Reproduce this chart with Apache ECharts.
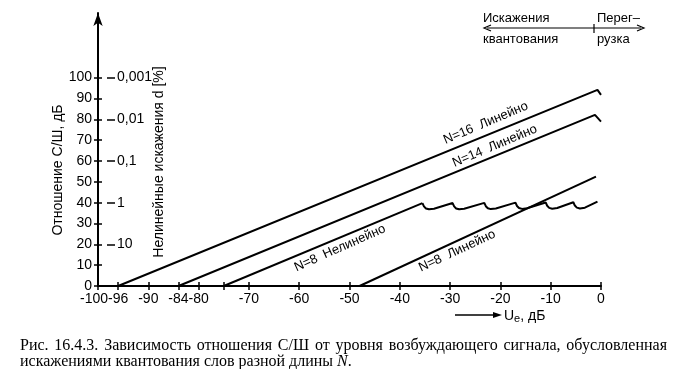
<!DOCTYPE html>
<html><head><meta charset="utf-8">
<script src="https://cdn.jsdelivr.net/npm/echarts@6/dist/echarts.min.js"></script>
<style>html,body{margin:0;padding:0;background:#fff}#c{width:677px;height:369px}</style>
</head><body><div id="c"></div>
<script>
// ---- data ----
const xTicks = [-100,-96,-90,-84,-80,-75,-70,-60,-50,-40,-30,-20,-10,0];
const xLabels = [-96,-90,-84,-80,-70,-60,-50,-40,-30,-20,-10,0];
const xFirstLabel = [-100];
const yTicks = [0,10,20,30,40,50,60,70,80,90,100];
const dTicks = [20,40,60,80,100];
const dLabels = ['10','1','0,1','0,01','0,001'];
const n16 = [[-96,0],[-0.7,94.1],[0,91.7]];
const n14 = [[-84,0],[-1.2,82.1],[0,78.9]];
const n8lin = [[-48,0],[-1,52.5]];
const n8nonlinRise = [[-75,0],[-35.5,39.8]];
const n8nonlinSaw = [
  [-35.5,39.8],[-35.2,38.2],[-34.8,37.2],[-34.2,36.8],[-33.2,37.1],
  [-29.5,39.8],[-29.2,38.2],[-28.8,37.2],[-28.2,36.8],[-27.2,37.1],
  [-23.2,39.9],[-22.9,38.3],[-22.5,37.3],[-21.9,36.9],[-20.9,37.2],
  [-17,40.0],[-16.7,38.4],[-16.3,37.4],[-15.7,37.0],[-14.7,37.3],
  [-11,40.1],[-10.7,38.5],[-10.3,37.5],[-9.7,37.1],[-8.7,37.4],
  [-5.5,40.2],[-5.2,38.6],[-4.8,37.6],[-4.2,37.2],[-3.2,37.6],
  [-0.7,40.5]
];
const lineLabels = [
  {text:'N=16  Линейно', at:[-22.9,78.2], rot:23},
  {text:'N=14  Линейно', at:[-21.1,67.2], rot:23},
  {text:'N=8  Нелинейно', at:[-51.9,18.2], rot:24},
  {text:'N=8  Линейно', at:[-28.6,16.8], rot:25}
];
const caption1 = ['Рис.','16.4.3.','Зависимость','отношения','С/Ш','от','уровня','возбуждающего','сигнала,','обусловленная'];
const caption2 = 'искажениями квантования слов разной длины ';

// ---- chart ----
const SANS = '"Liberation Sans", Arial, sans-serif';
const SERIF = '"Liberation Serif", "Times New Roman", serif';
const chart = echarts.init(document.getElementById('c'), null, {renderer:'canvas'});

function lineSeries(data, label){
  const s = {type:'line', data:data, symbol:'none', animation:false,
    lineStyle:{color:'#000', width:2}, z:3};
  if (label) {
    s.markPoint = {symbol:'circle', symbolSize:1, itemStyle:{color:'rgba(0,0,0,0)'}, animation:false,
      data:[{coord:label.at, value:0,
        label:{show:true, position:'inside', rotate:label.rot, formatter:label.text,
          color:'#000', fontSize:13, fontFamily:SANS}}]};
  }
  return s;
}

// justify caption line 1
const capFont = '16px ' + SERIF;
const ctx = document.createElement('canvas').getContext('2d');
ctx.font = capFont;
const w1 = caption1.map(w => ctx.measureText(w).width);
const tot = w1.reduce((a,b)=>a+b,0);
const gap = (667 - 20 - tot) / (caption1.length - 1);
const capEls = [];
let cx = 20;
caption1.forEach((w,i)=>{
  capEls.push({type:'text', x:cx, y:346, style:{text:w, font:capFont, fill:'#000', align:'left', verticalAlign:'middle'}});
  cx += w1[i] + gap;
});
capEls.push({type:'text', x:20, y:362, style:{
  text:'{a|' + caption2 + '}{i|N}{a|.}',
  rich:{a:{font:capFont, fill:'#000'}, i:{font:'italic ' + capFont, fill:'#000'}},
  align:'left', verticalAlign:'middle'}});

const option = {
  backgroundColor:'#fff',
  animation:false,
  grid:{left:98, right:76, top:13, bottom:83},
  xAxis:[
    {type:'value', min:-100, max:0, position:'bottom',
     axisLine:{onZero:false, lineStyle:{color:'#000', width:2}},
     axisTick:{show:true, length:4, customValues:xTicks, lineStyle:{color:'#000', width:1.5}},
     axisLabel:{color:'#000', fontSize:14, fontFamily:SANS, margin:6, customValues:xLabels,
       showMinLabel:true, showMaxLabel:true, hideOverlap:false, formatter:v=>String(v)},
     splitLine:{show:false}},
    {type:'value', min:-100, max:0, position:'bottom',
     axisLine:{show:false, onZero:false},
     axisTick:{show:true, inside:true, length:4, customValues:xTicks, lineStyle:{color:'#000', width:1.5}},
     axisLabel:{show:true, color:'#000', fontSize:14, fontFamily:SANS, margin:6, customValues:xFirstLabel,
       showMinLabel:true, formatter:v=>'{a|' + v + '}', rich:{a:{fontSize:14, fontFamily:SANS, color:'#000', padding:[0,8,0,0]}}},
     splitLine:{show:false}}
  ],
  yAxis:[
    {type:'value', min:0, max:131, position:'left',
     axisLine:{show:true, onZero:false, symbol:['none','arrow'], symbolSize:[7,13], lineStyle:{color:'#000', width:2}},
     axisTick:{show:true, length:4, customValues:yTicks, lineStyle:{color:'#000', width:1.5}},
     axisLabel:{color:'#000', fontSize:14, fontFamily:SANS, margin:6, customValues:yTicks},
     splitLine:{show:false}},
    {type:'value', min:0, max:131, position:'left',
     axisLine:{show:false, onZero:false},
     axisTick:{show:true, inside:true, length:4, customValues:yTicks, lineStyle:{color:'#000', width:1.5}},
     axisLabel:{show:false}, splitLine:{show:false}},
    {type:'value', min:0, max:131, position:'left', offset:-9,
     axisLine:{show:false, onZero:false},
     axisTick:{show:true, inside:true, length:8, customValues:dTicks, lineStyle:{color:'#000', width:1.5}},
     axisLabel:{show:true, inside:true, margin:10, color:'#000', fontSize:14, fontFamily:SANS,
       customValues:dTicks, formatter:v=>dLabels[dTicks.indexOf(v)] || ''},
     splitLine:{show:false}}
  ],
  series:[
    lineSeries(n16, lineLabels[0]),
    lineSeries(n14, lineLabels[1]),
    lineSeries(n8nonlinRise, lineLabels[2]),
    lineSeries(n8nonlinSaw, null),
    lineSeries(n8lin, lineLabels[3])
  ],
  graphic:[
    {type:'text', x:58, y:170, rotation:Math.PI/2, style:{text:'Отношение С/Ш, дБ', font:'14px ' + SANS, fill:'#000', align:'center', verticalAlign:'middle'}},
    {type:'text', x:159, y:162, rotation:Math.PI/2, style:{text:'Нелинейные искажения d [%]', font:'14px ' + SANS, fill:'#000', align:'center', verticalAlign:'middle'}},
    // top annotation
    {type:'text', x:483, y:18, style:{text:'Искажения', font:'13px ' + SANS, fill:'#000', align:'left', verticalAlign:'middle'}},
    {type:'text', x:483, y:39, style:{text:'квантования', font:'13px ' + SANS, fill:'#000', align:'left', verticalAlign:'middle'}},
    {type:'text', x:597, y:18, style:{text:'Перег–', font:'13px ' + SANS, fill:'#000', align:'left', verticalAlign:'middle'}},
    {type:'text', x:597, y:39, style:{text:'рузка', font:'13px ' + SANS, fill:'#000', align:'left', verticalAlign:'middle'}},
    {type:'line', shape:{x1:487, y1:28, x2:641, y2:28}, style:{stroke:'#000', lineWidth:1.2}},
    {type:'polyline', shape:{points:[[491,25],[484,28],[491,31]]}, style:{stroke:'#000', lineWidth:1.2, fill:null}},
    {type:'polyline', shape:{points:[[637,25],[644,28],[637,31]]}, style:{stroke:'#000', lineWidth:1.2, fill:null}},
    {type:'line', shape:{x1:594, y1:24, x2:594, y2:33}, style:{stroke:'#000', lineWidth:1.2}},
    // bottom arrow + axis name
    {type:'line', shape:{x1:455, y1:315, x2:496, y2:315}, style:{stroke:'#000', lineWidth:1.5}},
    {type:'polygon', shape:{points:[[493,312],[502,315],[493,318]]}, style:{fill:'#000'}},
    {type:'text', x:504, y:316, style:{text:'{a|U}{b|e}{a|, дБ}',
      rich:{a:{font:'14px ' + SANS, fill:'#000'}, b:{font:'11px ' + SANS, fill:'#000', padding:[6,0,0,0]}},
      align:'left', verticalAlign:'middle'}}
  ].concat(capEls)
};
chart.setOption(option);
</script>
</body></html>
